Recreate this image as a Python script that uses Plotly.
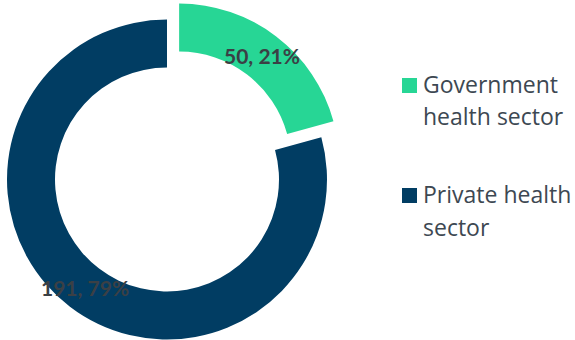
import math
import plotly.graph_objects as go

# Data
labels = ["Government health sector", "Private health sector"]
values = [50, 191]
legend_lines = [["Government", "health sector"], ["Private health", "sector"]]
colors = ["#27D695", "#013D63"]
pulled = [True, False]

# Canvas and donut geometry (pixels, y measured from the top)
W, H = 575, 340
CX, CY, R = 167, 179.5, 160
HOLE = 0.70
PULL_PX = 20
LABEL_COLOR = "#3B4045"
LEGEND_COLOR = "#3D4852"
TRANSPARENT = "rgba(0,0,0,0)"

total = sum(values)
fig = go.Figure()
annotations = []

start = 0.0
for i, v in enumerate(values):
    frac = v / total
    mid = 2 * math.pi * (start + frac / 2)  # clockwise from 12 o'clock
    start += frac
    dx = PULL_PX * math.sin(mid) if pulled[i] else 0.0
    dy = -PULL_PX * math.cos(mid) if pulled[i] else 0.0
    cx, cy = CX + dx, CY + dy

    slice_colors = [c if j == i else TRANSPARENT for j, c in enumerate(colors)]
    fig.add_trace(go.Pie(
        labels=labels,
        values=values,
        sort=False,
        direction="clockwise",
        rotation=0,
        hole=HOLE,
        marker=dict(colors=slice_colors, line=dict(width=0)),
        textinfo="none",
        showlegend=False,
        hoverinfo="label+value+percent",
        domain=dict(
            x=[(cx - R) / W, (cx + R) / W],
            y=[(H - cy - R) / H, (H - cy + R) / H],
        ),
    ))

    # value label at the middle of the ring, on the slice's mid angle
    rm = R * (1 + HOLE) / 2
    lx = cx + rm * math.sin(mid)
    ly = cy - rm * math.cos(mid)
    annotations.append(dict(
        x=lx / W, y=1 - ly / H, xref="paper", yref="paper",
        xanchor="center", yanchor="middle", showarrow=False,
        text=f"<b>{v}, {round(100 * v / total)}%</b>",
        font=dict(family="Lato", size=21, color=LABEL_COLOR),
    ))

# Legend: colour squares with wrapped labels
shapes = []
legend_tops = [78, 188]
line_mids = [[83.8, 116.3], [193.8, 226.8]]
for i, lines in enumerate(legend_lines):
    top = legend_tops[i]
    shapes.append(dict(
        type="rect", xref="paper", yref="paper",
        x0=402 / W, x1=417 / W, y0=1 - (top + 15) / H, y1=1 - top / H,
        fillcolor=colors[i], line=dict(width=0),
    ))
    for ln, ym in zip(lines, line_mids[i]):
        annotations.append(dict(
            x=421 / W, y=1 - ym / H, xref="paper", yref="paper",
            xanchor="left", yanchor="middle", showarrow=False,
            text=ln,
            font=dict(family="Open Sans", size=23, color=LEGEND_COLOR),
        ))

fig.update_layout(
    width=W, height=H,
    margin=dict(l=0, r=0, t=0, b=0),
    paper_bgcolor="white",
    plot_bgcolor="white",
    annotations=annotations,
    shapes=shapes,
)

fig.write_html("out.html")
